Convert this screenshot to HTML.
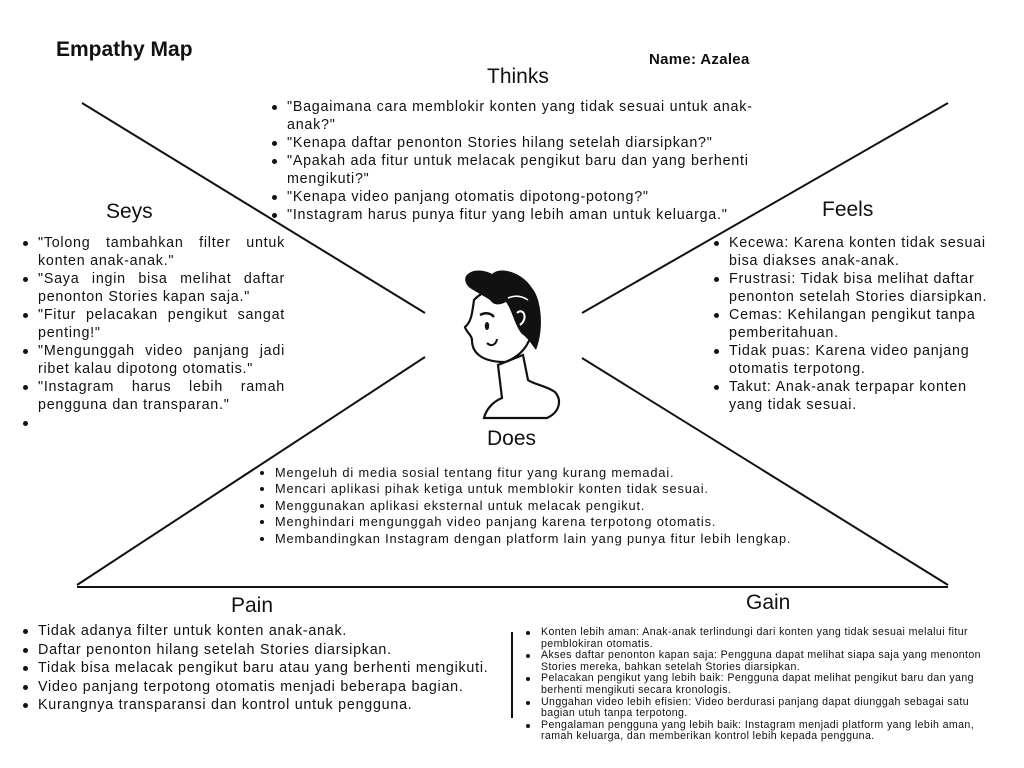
<!DOCTYPE html>
<html><head><meta charset="utf-8"><style>
body{margin:0;width:1024px;height:768px;background:#fff;position:relative;overflow:hidden;font-family:"Liberation Sans",sans-serif;color:#111}
.a{position:absolute}
ul{margin:0;padding:0;list-style:none}
li{position:relative;padding-left:15px}
li:before{content:"";position:absolute;left:0;width:5px;height:5px;border-radius:50%;background:#111}
.t{font-size:21px;color:#111}
.m li{font-size:14.3px;line-height:18px;letter-spacing:0.75px}
.m li:before{top:7px}
.s li{text-align:justify;text-align-last:left}
.d li{font-size:12.8px;line-height:16.4px;letter-spacing:0.85px}
.d li:before{top:6px;width:4px;height:4px}
.g li{font-size:10.6px;line-height:11.6px;padding-left:15px;letter-spacing:0.4px}
.g li:before{top:4px;width:4px;height:4px}
</style></head><body>
<svg class="a" style="left:0;top:0" width="1024" height="768">
<g stroke="#111" stroke-width="2" fill="none">
<line x1="82" y1="103" x2="425" y2="313"/>
<line x1="948" y1="103" x2="582" y2="313"/>
<line x1="77" y1="585" x2="425" y2="357"/>
<line x1="948" y1="585" x2="582" y2="358"/>
<line x1="77" y1="587" x2="948" y2="587"/>
<line x1="512" y1="632" x2="512" y2="718"/>
</g>
<g stroke="#111" stroke-width="2.2" fill="#fff">
<path d="M498 365 L502 398 C492 402 486 410 484 418 L547 418 C560 412 562 400 555 392 C545 385 535 385 528 380 L523 355 Z"/>
<path d="M474 300 C472 315 471 322 465 327 C466 332 472 335 472 340 C472 355 485 362 505 362 C520 357 530 345 532 330 C536 318 532 300 520 292 C505 285 485 288 474 300 Z"/>
</g>
<path d="M466 276 C472 268 485 270 492 274 C500 266 522 272 532 288 C542 300 544 330 536 350 C532 345 528 338 522 334 C515 326 512 310 506 302 C500 305 494 306 490 300 C484 296 476 292 470 288 C466 285 464 280 466 276 Z" fill="#111"/>
<path d="M517 313 C523 307 529 318 520 325" stroke="#fff" stroke-width="2" fill="none"/>
<path d="M508 298 C515 295 522 296 528 300" stroke="#fff" stroke-width="1.5" fill="none"/>
<ellipse cx="487" cy="326" rx="2.2" ry="4" fill="#111"/>
<path d="M480 315 C485 312 491 313 494 317" stroke="#111" stroke-width="2.5" fill="none"/>
<path d="M487 343 C491 347 496 345 497 339" stroke="#111" stroke-width="2" fill="none"/>
</svg>
<div class="a" style="left:56px;top:38px;font-size:21px;font-weight:bold">Empathy Map</div>
<div class="a" style="left:649px;top:51px;font-size:15px;font-weight:bold;letter-spacing:0.3px">Name: Azalea</div>
<div class="a t" style="left:487px;top:65px">Thinks</div>
<div class="a t" style="left:106px;top:200px">Seys</div>
<div class="a t" style="left:822px;top:198px">Feels</div>
<div class="a t" style="left:487px;top:427px">Does</div>
<div class="a t" style="left:231px;top:594px">Pain</div>
<div class="a t" style="left:746px;top:591px">Gain</div>
<ul class="a m" style="left:272px;top:98px;width:490px">
<li>"Bagaimana cara memblokir konten yang tidak sesuai untuk anak-anak?"</li>
<li>"Kenapa daftar penonton Stories hilang setelah diarsipkan?"</li>
<li>"Apakah ada fitur untuk melacak pengikut baru dan yang berhenti mengikuti?"</li>
<li>"Kenapa video panjang otomatis dipotong-potong?"</li>
<li>"Instagram harus punya fitur yang lebih aman untuk keluarga."</li>
</ul>
<ul class="a m s" style="left:23px;top:234px;width:262px">
<li>"Tolong tambahkan filter untuk konten anak-anak."</li>
<li>"Saya ingin bisa melihat daftar penonton Stories kapan saja."</li>
<li>"Fitur pelacakan pengikut sangat penting!"</li>
<li>"Mengunggah video panjang jadi ribet kalau dipotong otomatis."</li>
<li>"Instagram harus lebih ramah pengguna dan transparan."</li>
<li>&nbsp;</li>
</ul>
<ul class="a m" style="left:714px;top:234px;width:290px">
<li>Kecewa: Karena konten tidak sesuai bisa diakses anak-anak.</li>
<li>Frustrasi: Tidak bisa melihat daftar penonton setelah Stories diarsipkan.</li>
<li>Cemas: Kehilangan pengikut tanpa pemberitahuan.</li>
<li>Tidak puas: Karena video panjang otomatis terpotong.</li>
<li>Takut: Anak-anak terpapar konten yang tidak sesuai.</li>
</ul>
<ul class="a d" style="left:260px;top:465px;width:600px">
<li>Mengeluh di media sosial tentang fitur yang kurang memadai.</li>
<li>Mencari aplikasi pihak ketiga untuk memblokir konten tidak sesuai.</li>
<li>Menggunakan aplikasi eksternal untuk melacak pengikut.</li>
<li>Menghindari mengunggah video panjang karena terpotong otomatis.</li>
<li>Membandingkan Instagram dengan platform lain yang punya fitur lebih lengkap.</li>
</ul>
<ul class="a m" style="left:23px;top:622px;width:490px">
<li style="line-height:18.5px">Tidak adanya filter untuk konten anak-anak.</li>
<li style="line-height:18.5px">Daftar penonton hilang setelah Stories diarsipkan.</li>
<li style="line-height:18.5px">Tidak bisa melacak pengikut baru atau yang berhenti mengikuti.</li>
<li style="line-height:18.5px">Video panjang terpotong otomatis menjadi beberapa bagian.</li>
<li style="line-height:18.5px">Kurangnya transparansi dan kontrol untuk pengguna.</li>
</ul>
<ul class="a g" style="left:526px;top:627px;width:475px">
<li>Konten lebih aman: Anak-anak terlindungi dari konten yang tidak sesuai melalui fitur pemblokiran otomatis.</li>
<li>Akses daftar penonton kapan saja: Pengguna dapat melihat siapa saja yang menonton Stories mereka, bahkan setelah Stories diarsipkan.</li>
<li>Pelacakan pengikut yang lebih baik: Pengguna dapat melihat pengikut baru dan yang berhenti mengikuti secara kronologis.</li>
<li>Unggahan video lebih efisien: Video berdurasi panjang dapat diunggah sebagai satu bagian utuh tanpa terpotong.</li>
<li>Pengalaman pengguna yang lebih baik: Instagram menjadi platform yang lebih aman, ramah keluarga, dan memberikan kontrol lebih kepada pengguna.</li>
</ul>
</body></html>
